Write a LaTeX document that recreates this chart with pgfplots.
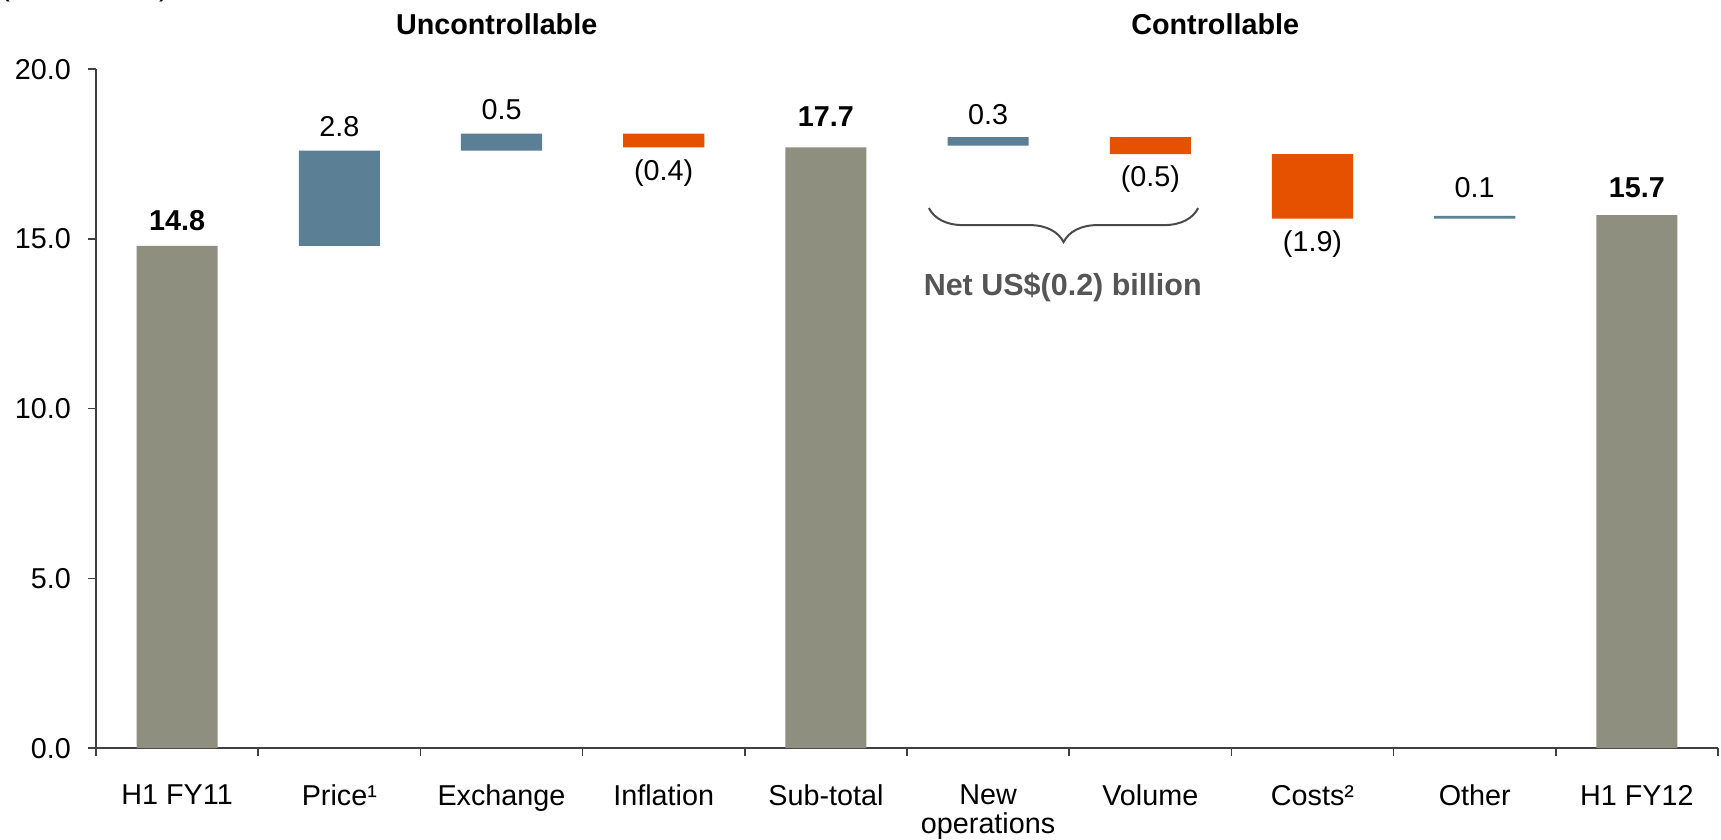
\documentclass[border=0pt]{standalone}
\usepackage{fontspec}
\setmainfont{Liberation Sans}
\usepackage{pgfplots}
\usepackage{pgfplotstable}
\pgfplotsset{compat=1.18}
\usetikzlibrary{decorations.pathreplacing}
\definecolor{wfgray}{RGB}{143,143,127}
\definecolor{wfblue}{RGB}{91,127,148}
\definecolor{wforange}{RGB}{230,81,0}
\definecolor{bracegray}{RGB}{74,74,74}
\definecolor{netgray}{RGB}{85,85,85}
\definecolor{axisgray}{RGB}{64,64,64}
\newcommand{\lf}{\fontsize{11.5}{11.5}\selectfont}
\pgfplotstableread{
x base gray blue orange
0 0     14.8 0    0
1 14.8  0    2.8  0
2 17.6  0    0.5  0
3 17.7  0    0    0.4
4 0     17.7 0    0
5 17.75 0    0.25 0
6 17.5  0    0    0.5
7 15.6  0    0    1.9
8 15.6  0    0.08 0
9 0     15.7 0    0
}\wf
\begin{document}
\begin{tikzpicture}
\begin{axis}[
  name=ax,
  scale only axis,
  width=648.8pt, height=271.6pt,
  xmin=-0.5, xmax=9.5, ymin=0, ymax=20,
  clip=false,
  ybar stacked, bar width=0.5,
  axis x line*=bottom, axis y line*=left,
  axis line style={axisgray, line width=0.6pt},
  ytick={0,5,10,15,20},
  yticklabel style={xshift=-3.3pt, /pgf/number format/.cd, fixed, fixed zerofill, precision=1, assume math mode=true},
  xtick={0,1,2,3,4,5,6,7,8,9},
  xticklabels={H1 FY11, Price¹, Exchange, Inflation, Sub-total, New\\operations, Volume, Costs², Other, H1 FY12},
  minor xtick={-0.5,0.5,1.5,2.5,3.5,4.5,5.5,6.5,7.5,8.5,9.5},
  tick align=outside,
  major tick length=3.2pt, minor tick length=3.2pt,
  every major x tick/.style={draw=none},
  every minor x tick/.style={axisgray, line width=0.6pt},
  every major y tick/.style={axisgray, line width=0.6pt},
  tick label style={font=\lf, text=black},
  xticklabel style={align=center, yshift=-8pt},
]
\addplot[fill=none, draw=none] table[x=x, y=base] {\wf};
\addplot[fill=wfgray, draw=none] table[x=x, y=gray] {\wf};
\addplot[fill=wfblue, draw=none] table[x=x, y=blue] {\wf};
\addplot[fill=wforange, draw=none] table[x=x, y=orange] {\wf};

\node[font=\lf\bfseries] at (axis cs:0,15.55) {14.8};
\node[font=\lf] at (axis cs:1,18.3) {2.8};
\node[font=\lf] at (axis cs:2,18.8) {0.5};
\node[font=\lf] at (axis cs:3,16.93) {(0.4)};
\node[font=\lf\bfseries] at (axis cs:4,18.6) {17.7};
\node[font=\lf] at (axis cs:5,18.65) {0.3};
\node[font=\lf] at (axis cs:6,16.77) {(0.5)};
\node[font=\lf] at (axis cs:7,14.86) {(1.9)};
\node[font=\lf] at (axis cs:8,16.5) {0.1};
\node[font=\lf\bfseries] at (axis cs:9,16.5) {15.7};

\node[font=\lf\bfseries] at (axis cs:1.97,21.33) {Uncontrollable};
\node[font=\lf\bfseries] at (axis cs:6.40,21.33) {Controllable};

\draw[bracegray, line width=0.8pt, decorate, decoration={brace, mirror, amplitude=13.6pt}]
  (axis cs:4.635,15.91) -- (axis cs:6.295,15.91);
\node[font=\fontsize{12.2}{12.2}\selectfont\bfseries, text=netgray] at (axis cs:5.46,13.59) {Net US\$(0.2) billion};
\end{axis}
\node[font=\fontsize{12.5}{12.5}\selectfont, anchor=base west, inner sep=0pt]
  at ([shift={(-38.8pt,29.6pt)}]ax.north west) {(US\$ billion)};
\pgfresetboundingbox
\path[use as bounding box] ([shift={(-38.4pt,-36.7pt)}]ax.south west) rectangle ([shift={(1.2pt,27.7pt)}]ax.north east);
\end{tikzpicture}
\end{document}
